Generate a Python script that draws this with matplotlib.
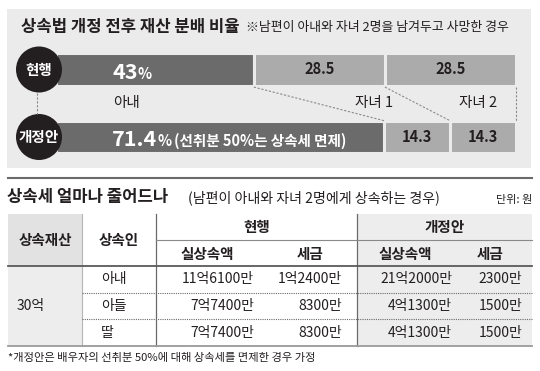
import matplotlib
matplotlib.use('Agg')
import matplotlib.pyplot as plt
from matplotlib.patches import Rectangle, Circle

plt.rcParams['font.family'] = ['Noto Sans CJK KR', 'DejaVu Sans']

INK = '#231f20'
PANEL = '#ebebeb'
DARK_BAR = '#6b6b6b'
LIGHT_BAR = '#ababab'
CELL_GREY = '#ededed'

# 재산 분배 비율 (%)
scenarios = ['현행', '개정안']
wife_share = [43, 71.4]
child1_share = [28.5, 14.3]
child2_share = [28.5, 14.3]
wife_notes = ['', '(선취분 50%는 상속세 면제)']
heir_labels = ['아내', '자녀 1', '자녀 2']

# 상속세 표
estate = '30억'
heirs = ['아내', '아들', '딸']
cur_inherit = ['11억6100만', '7억7400만', '7억7400만']
cur_tax = ['1억2400만', '8300만', '8300만']
new_inherit = ['21억2000만', '4억1300만', '4억1300만']
new_tax = ['2300만', '1500만', '1500만']

W, H = 540, 371
fig = plt.figure(figsize=(W / 100, H / 100), dpi=100)


def px_axes(z):
    a = fig.add_axes([0, 0, 1, 1], zorder=z)
    a.set_xlim(0, W)
    a.set_ylim(H, 0)
    a.axis('off')
    a.patch.set_alpha(0)
    return a


bg = px_axes(0)
bg.add_patch(Rectangle((7, 9), 524, 159, color=PANEL, lw=0))
bg.text(21, 27, '상속법 개정 전후 재산 분배 비율', fontsize=12,
        fontweight='bold', color=INK, va='center')
bg.text(246, 28, '※남편이 아내와 자녀 2명을 남겨두고 사망한 경우',
        fontsize=9.3, color=INK, va='center')

# --- stacked bars ---
ax = fig.add_axes([56 / W, 1 - 170.75 / H, 460 / W, 135 / H], zorder=1)
ax.set_xlim(0, 100)
ax.set_ylim(1.5, -0.5)
ax.axis('off')
ax.patch.set_alpha(0)

ypos = list(range(len(scenarios)))
h = 0.48
left3 = [a + b for a, b in zip(wife_share, child1_share)]
ax.barh(ypos, wife_share, height=h, color=DARK_BAR, edgecolor=PANEL, lw=2.2)
ax.barh(ypos, child1_share, left=wife_share, height=h, color=LIGHT_BAR,
        edgecolor=PANEL, lw=2.2)
ax.barh(ypos, child2_share, left=left3, height=h, color=LIGHT_BAR,
        edgecolor=PANEL, lw=2.2)

for i in ypos:
    for left, val in [(wife_share[i], child1_share[i]), (left3[i], child2_share[i])]:
        ax.text(left + val / 2, i, f'{val:g}', ha='center', va='center',
                fontsize=10.5, fontweight='bold', color=INK)
    t = ax.text(12.2, i + 0.14, f'{wife_share[i]:g}', fontsize=15.5,
                fontweight='bold', color='white', va='baseline')
    p = ax.annotate('%', xy=(1, 0), xycoords=t, xytext=(0, 1),
                    textcoords='offset points', fontsize=10.5,
                    fontweight='bold', color='white', va='bottom')
    if wife_notes[i]:
        ax.annotate(wife_notes[i], xy=(1, 0), xycoords=p, xytext=(2, 0),
                    textcoords='offset points', fontsize=10.5,
                    fontweight='bold', color='white', va='bottom')

# dashed connectors between segment boundaries
edges = [[w, w + c1, w + c1 + c2] for w, c1, c2 in
         zip(wife_share, child1_share, child2_share)]
for e0, e1 in zip(edges[0], edges[1]):
    ax.plot([e0, e1], [h / 2 + 0.02, 1 - h / 2], ls=(0, (2, 1.5)),
            color='#8a8a8a', lw=0.8, clip_on=False)

for x, lab in zip([15.4, 69.2, 91.7], heir_labels):
    ax.text(x, 0.5, lab, ha='center', va='center', fontsize=10.5, color=INK)

# circles with scenario names
top = px_axes(2)
centers = []
for i, name in enumerate(scenarios):
    disp = ax.transData.transform((0, i))
    cy = top.transData.inverted().transform(disp)[1]
    centers.append(cy)
    top.add_patch(Circle((39, cy), 23, color=INK, lw=0))
    top.text(39, cy, name, ha='center', va='center', fontsize=10.5,
             fontweight='bold', color='white')
top.plot([37, 37], [centers[0] + 23, centers[1] - 23], ls=(0, (2, 1.5)),
         color='#8a8a8a', lw=0.8)

bg.plot([8, 532], [178, 178], color='#6a6a6a', lw=1.5)

# --- table ---
bg.text(7, 197, '상속세 얼마나 줄어드나', fontsize=12, fontweight='bold',
        color=INK, va='center')
bg.text(188, 198, '(남편이 아내와 자녀 2명에게 상속하는 경우)', fontsize=10.1,
        color=INK, va='center')
bg.text(532, 200, '단위: 원', fontsize=8, color=INK, va='center', ha='right')

x_edges = [8, 82, 156, 357, 532]
y_top, y_sub, y_head, y_bot = 214, 240, 266, 346
row_lines = [293, 319]
row_mid = [279.5, 306, 332.5]

bg.add_patch(Rectangle((x_edges[0], y_top), x_edges[1] - x_edges[0],
                       y_head - y_top, color='#e2e2e2', lw=0))
bg.add_patch(Rectangle((x_edges[0], y_head), x_edges[1] - x_edges[0],
                       y_bot - y_head, color=CELL_GREY, lw=0))
bg.add_patch(Rectangle((x_edges[3], y_top), x_edges[4] - x_edges[3],
                       y_bot - y_top, color=CELL_GREY, lw=0))

bg.plot([x_edges[1]] * 2, [y_top, y_bot], color='#b5b5b5', lw=0.8)
for x in x_edges[2:4]:
    bg.plot([x, x], [y_top, y_bot], color='#6a6a6a', lw=0.9)
bg.plot([x_edges[2], x_edges[4]], [y_sub, y_sub], color='#8a8a8a', lw=0.8)
bg.plot([x_edges[0], x_edges[4]], [y_head, y_head], color='#5a5a5a', lw=1.3)
for y in row_lines:
    bg.plot([x_edges[1], x_edges[4]], [y, y], color='#6a6a6a', lw=0.8,
            ls=(0, (1, 1)))
bg.plot([x_edges[0], x_edges[4]], [y_bot, y_bot], color='#9a9a9a', lw=1.3)

hdr = dict(fontsize=10.5, fontweight='bold', color=INK, ha='center', va='center')
bg.text(45, 240, '상속재산', **hdr)
bg.text(119, 240, '상속인', **hdr)
bg.text(256.5, 227, '현행', **hdr)
bg.text(444.5, 227, '개정안', **hdr)
for x, lab in zip([207, 310, 405, 490], ['실상속액', '세금', '실상속액', '세금']):
    bg.text(x, 254, lab, **hdr)

cell = dict(fontsize=10, color=INK, va='center')
bg.text(17, 306, estate, **cell)
for r in range(len(heirs)):
    y = row_mid[r]
    bg.text(101, y, heirs[r], ha='left', **cell)
    for x, col in zip([254, 342, 452, 522],
                      [cur_inherit, cur_tax, new_inherit, new_tax]):
        bg.text(x, y, col[r], ha='right', **cell)

bg.text(8, 358, '*개정안은 배우자의 선취분 50%에 대해 상속세를 면제한 경우 가정',
        fontsize=8.1, color=INK, va='center')

fig.savefig('out.png', dpi=100)
